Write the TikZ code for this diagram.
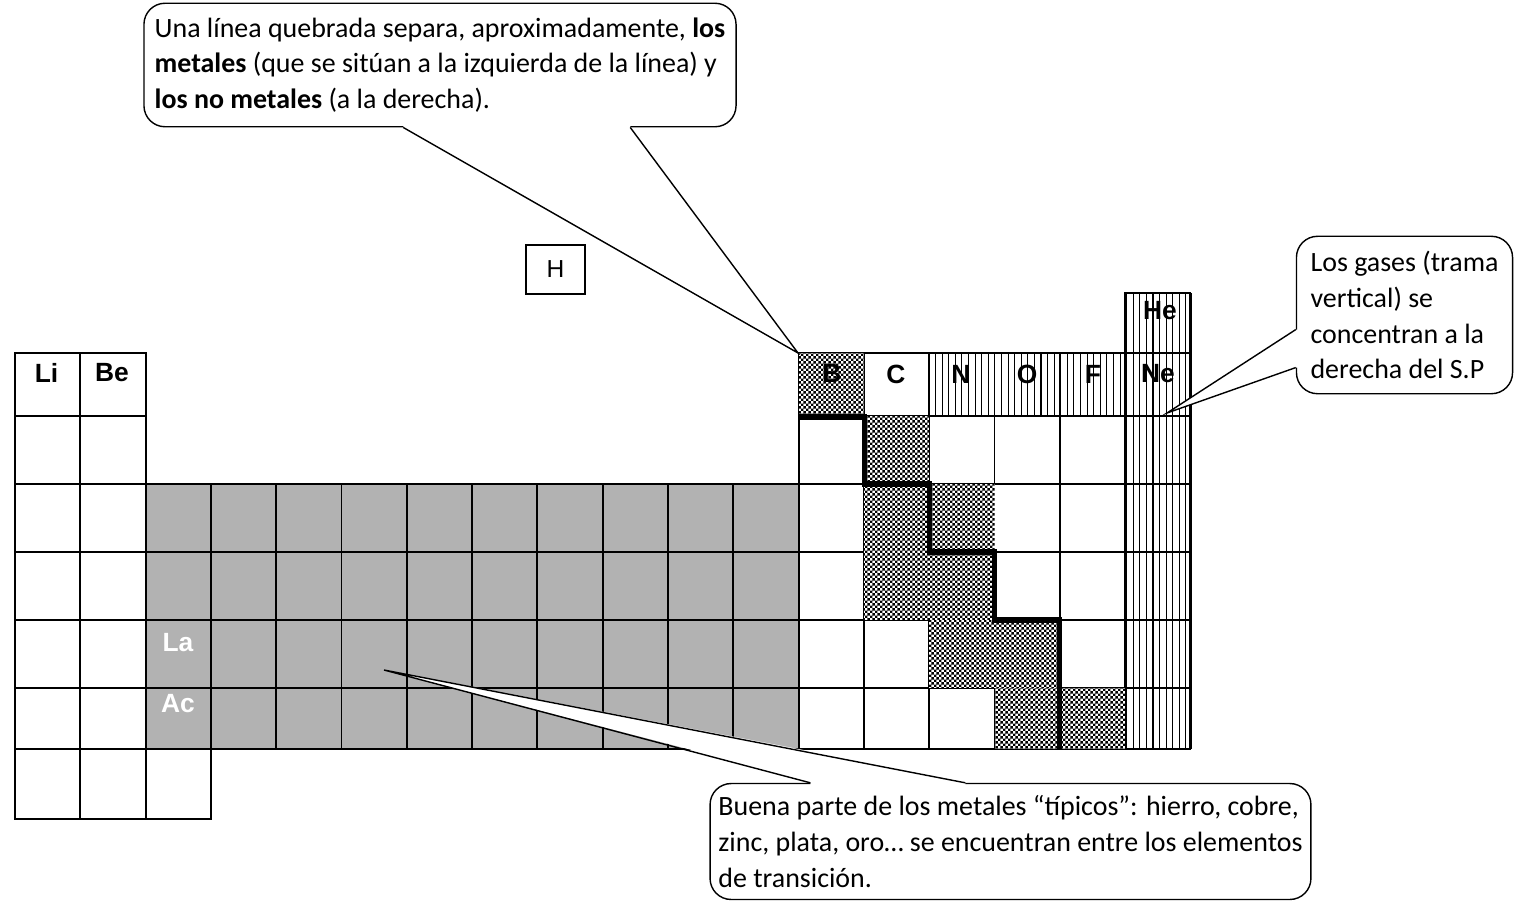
\documentclass[tikz,border=0pt]{standalone}
\usepackage{fontspec}
\setmainfont{Carlito}
\newfontfamily\arialfont{Liberation Sans}
\usepackage{tikz}
\usetikzlibrary{calc, patterns, patterns.meta}
\usepackage{xcolor}

\pgfdeclarepatternformonly{finecheck}{\pgfqpoint{0pt}{0pt}}{\pgfqpoint{2.8pt}{2.8pt}}{\pgfqpoint{2.8pt}{2.8pt}}{%
  \pgfpathrectangle{\pgfqpoint{0pt}{0pt}}{\pgfqpoint{1.4pt}{1.4pt}}%
  \pgfpathrectangle{\pgfqpoint{1.4pt}{1.4pt}}{\pgfqpoint{1.4pt}{1.4pt}}%
  \pgfusepath{fill}}

\begin{document}
\begin{tikzpicture}[
  x=0.02cm, y=-0.02cm,
  cell/.style={draw, line width=1.1pt},
  tmetal/.style={fill=black!30},
  gas/.style={pattern={Lines[angle=90, distance=3.75pt, line width=0.6pt]}},
  semimetal/.style={preaction={fill=white}, pattern=finecheck},
  symbol/.style={font=\arialfont\bfseries\fontsize{15}{18}\selectfont, inner sep=0pt},
  note/.style={draw, fill=white, rounded corners=12pt, line width=0.8pt, align=left, font=\fontsize{15.9}{20.4}\selectfont},
  pointer/.style={line width=0.8pt, line join=miter}
]
\useasboundingbox (0,0) rectangle (1515,903);

% Fills
\fill[tmetal] (145,484) rectangle (798,749);
\fill[gas] (928,353) rectangle (1125,416);
\fill[gas] (1125,293) rectangle (1191,749);

% Cells
\foreach \c in {1,2}
  \foreach \ya/\yb in {353/416,416/484,484/552,552/620,620/688,688/749,749/819}
    \draw[cell] ({15+65.3*(\c-1)},\ya) rectangle ({15+65.3*\c},\yb);
\foreach \ya/\yb in {484/552,552/620,620/688,688/749,749/819}
  \draw[cell] (145.6,\ya) rectangle (210.9,\yb);
\foreach \c in {4,...,12}
  \foreach \ya/\yb in {484/552,552/620,620/688,688/749}
    \draw[cell] ({15+65.3*(\c-1)},\ya) rectangle ({15+65.3*\c},\yb);
\foreach \c in {13,...,18}
  \foreach \ya/\yb in {353/416,416/484,484/552,552/620,620/688,688/749}
    \draw[cell] ({15+65.3*(\c-1)},\ya) rectangle ({15+65.3*\c},\yb);
\draw[cell] (1125,293) rectangle (1190.4,353);
\draw[line width=1.6pt] (1190.4,293) -- (1190.4,749);

% Semimetals
\fill[semimetal] (798.6,353) rectangle (863.9,416);
\fill[semimetal] (863.9,416) rectangle (929.2,484);
\fill[semimetal] (863.9,484) rectangle (994.5,620);
\fill[semimetal] (929.2,620) rectangle (1059.8,688);
\fill[semimetal] (994.5,688) rectangle (1125.1,749);

% Metal / non-metal border
\draw[line width=3pt, line join=miter] (798.6,417) -| (864.5,484) -| (929.2,552) -| (994.5,620) -| (1059.8,749);

% Labels
\node[symbol] (nLi) at (46.5,373) {Li};
\node[symbol] (nBe) at (112,373) {Be};
\node[symbol, white] (nLa) at (178,643) {La};
\node[symbol, white] (nAc) at (178,704) {Ac};
\node[symbol] (nB) at (832,373) {B};
\node[symbol] (nC) at (896,374) {C};
\node[symbol] (nN) at (961,374) {N};
\node[symbol] (nO) at (1027,374) {O};
\node[symbol] (nF) at (1093,374) {F};
\node[symbol] (nNe) at (1158,374) {Ne};
\node[symbol] (nHe) at (1160,311) {He};
\node[draw, line width=0.8pt, minimum width=33.5pt, minimum height=27.8pt, font=\arialfont\fontsize{14}{16}\selectfont] (nH) at (555.5,269.5) {H};

% Tips
\coordinate (tipB) at (798,353);
\coordinate (tipNe) at (1167,413);
\coordinate (tipTM) at (384,670);

% Callouts
\node[note, minimum width=337pt, minimum height=70.3pt] (note1) at (440,65)
  {Una línea quebrada separa, aproximadamente, \textbf{los}\\
   \textbf{metales} (que se sitúan a la izquierda de la línea) y\\
   \textbf{los no metales} (a la derecha).};
\node[note, minimum width=123pt, minimum height=89.6pt] (note2) at (1404.5,315)
  {Los gases (trama\\ vertical) se\\ concentran a la\\ derecha del S.P};
\node[note, minimum width=342pt, minimum height=66pt] (note3) at (1010.5,841.5)
  {Buena parte de los metales “típicos”: hierro, cobre,\\
   zinc, plata, oro… se encuentran entre los elementos\\
   de transición.};

% Pointers
\coordinate (p1a) at ($(note1.south west)+(260,0)$);
\coordinate (p1b) at ($(note1.south west)+(487,0)$);
\fill[white] ($(p1a)+(0,-3)$) -- ($(p1a)+(0,2)$) -- (tipB) -- ($(p1b)+(0,2)$) -- ($(p1b)+(0,-3)$) -- cycle;
\draw[pointer] (p1a) -- (tipB) -- (p1b);

\coordinate (p2a) at ($(note2.north west)+(0,94)$);
\coordinate (p2b) at ($(note2.north west)+(0,132)$);
\fill[white] ($(p2a)+(3,0)$) -- ($(p2a)+(-2,0)$) -- (tipNe) -- ($(p2b)+(-2,0)$) -- ($(p2b)+(3,0)$) -- cycle;
\draw[pointer] (p2a) -- (tipNe) -- (p2b);

\coordinate (p3a) at ($(note3.north west)+(101,0)$);
\coordinate (p3b) at ($(note3.north west)+(256,0)$);
\fill[white] ($(p3a)+(0,3)$) -- ($(p3a)+(0,-2)$) -- (tipTM) -- ($(p3b)+(0,-2)$) -- ($(p3b)+(0,3)$) -- cycle;
\draw[pointer] (p3a) -- (tipTM) -- (p3b);

\end{tikzpicture}
\end{document}
